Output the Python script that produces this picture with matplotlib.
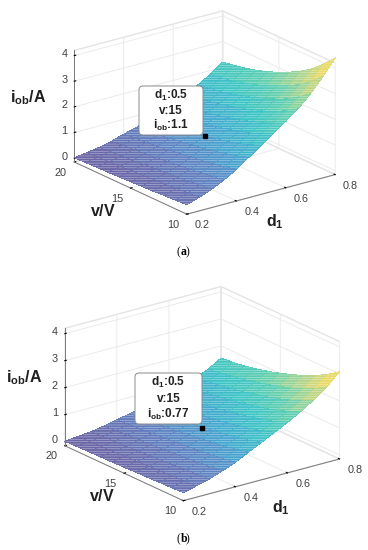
import matplotlib
matplotlib.use("Agg")
import matplotlib.pyplot as plt
import matplotlib.transforms as mtransforms
from matplotlib.colors import LinearSegmentedColormap
from matplotlib.lines import Line2D
from matplotlib.patches import FancyBboxPatch
from mpl_toolkits.mplot3d import proj3d
import numpy as np

W, H = 368, 550

# values
d1_vals = [0.20, 0.25, 0.30, 0.35, 0.40, 0.45, 0.50, 0.55, 0.60, 0.65, 0.70, 0.75, 0.80]
v_vals = [10, 11, 12, 13, 14, 15, 16, 17, 18, 19, 20]

iob_a = [
    [0.22, 0.38, 0.56, 0.80, 1.08, 1.42, 1.76, 2.10, 2.44, 2.80, 3.26, 3.80, 4.40],
    [0.19, 0.34, 0.51, 0.72, 0.97, 1.27, 1.58, 1.89, 2.20, 2.53, 2.94, 3.42, 3.96],
    [0.17, 0.31, 0.46, 0.66, 0.88, 1.15, 1.42, 1.70, 1.98, 2.28, 2.65, 3.08, 3.57],
    [0.14, 0.27, 0.41, 0.60, 0.80, 1.05, 1.30, 1.56, 1.82, 2.10, 2.44, 2.84, 3.28],
    [0.12, 0.24, 0.37, 0.54, 0.74, 0.96, 1.20, 1.44, 1.68, 1.94, 2.26, 2.62, 3.03],
    [0.10, 0.21, 0.33, 0.49, 0.67, 0.88, 1.10, 1.33, 1.55, 1.80, 2.09, 2.43, 2.82],
    [0.08, 0.18, 0.30, 0.44, 0.61, 0.80, 1.01, 1.22, 1.44, 1.67, 1.95, 2.26, 2.64],
    [0.06, 0.15, 0.26, 0.39, 0.55, 0.73, 0.93, 1.13, 1.34, 1.56, 1.82, 2.12, 2.49],
    [0.05, 0.13, 0.22, 0.35, 0.50, 0.66, 0.85, 1.04, 1.24, 1.46, 1.71, 1.99, 2.37],
    [0.03, 0.10, 0.19, 0.31, 0.46, 0.60, 0.78, 0.97, 1.17, 1.39, 1.64, 1.91, 2.28],
    [0.02, 0.08, 0.16, 0.27, 0.42, 0.55, 0.72, 0.90, 1.10, 1.32, 1.57, 1.85, 2.20],
]
iob_b = [
    [0.15, 0.27, 0.40, 0.57, 0.76, 1.00, 1.24, 1.48, 1.72, 1.99, 2.29, 2.64, 3.08],
    [0.13, 0.24, 0.36, 0.51, 0.68, 0.90, 1.11, 1.33, 1.55, 1.80, 2.07, 2.39, 2.78],
    [0.12, 0.22, 0.33, 0.47, 0.62, 0.81, 1.00, 1.20, 1.40, 1.63, 1.88, 2.17, 2.53],
    [0.10, 0.19, 0.29, 0.42, 0.57, 0.74, 0.92, 1.10, 1.29, 1.50, 1.73, 2.00, 2.33],
    [0.09, 0.17, 0.26, 0.38, 0.52, 0.68, 0.85, 1.01, 1.19, 1.39, 1.60, 1.85, 2.16],
    [0.07, 0.15, 0.23, 0.34, 0.47, 0.62, 0.77, 0.93, 1.10, 1.29, 1.49, 1.72, 2.01],
    [0.06, 0.13, 0.21, 0.31, 0.43, 0.56, 0.71, 0.86, 1.01, 1.20, 1.38, 1.60, 1.87],
    [0.05, 0.11, 0.18, 0.28, 0.39, 0.51, 0.65, 0.79, 0.94, 1.12, 1.29, 1.50, 1.76],
    [0.04, 0.09, 0.16, 0.25, 0.35, 0.47, 0.60, 0.73, 0.87, 1.04, 1.21, 1.41, 1.66],
    [0.03, 0.07, 0.13, 0.22, 0.32, 0.43, 0.55, 0.67, 0.81, 0.98, 1.14, 1.33, 1.60],
    [0.02, 0.06, 0.11, 0.19, 0.30, 0.39, 0.50, 0.62, 0.76, 0.92, 1.07, 1.26, 1.55],
]

d1_ticks = [0.2, 0.4, 0.6, 0.8]
v_ticks = [10, 15, 20]
iob_ticks = [0, 1, 2, 3, 4]
d1_tick_labels = ["0.2", "0.4", "0.6", "0.8"]
v_tick_labels = ["10", "15", "20"]
iob_tick_labels = ["0", "1", "2", "3", "4"]

tip_a = (0.5, 15, 1.1)
tip_b = (0.5, 15, 0.77)

plt.rcParams.update({
    "font.family": ["Liberation Sans", "DejaVu Sans"],
    "mathtext.fontset": "custom",
    "mathtext.rm": "Liberation Sans",
    "mathtext.bf": "Liberation Sans:bold",
    "mathtext.it": "Liberation Sans:bold",
    "hatch.linewidth": 0.35,
})

surf_cmap = LinearSegmentedColormap.from_list(
    "pale_parula", ["#6d62a3", "#5f82c2", "#44a8d0", "#3cc4c6", "#5fcfb0", "#a8d58e", "#e4d870", "#fddc45"])

fig = plt.figure(figsize=(W / 100, H / 100), dpi=100, facecolor="white")
PX = mtransforms.Affine2D().scale(1, -1).translate(0, H)  # image pixels, y down


def panel(rect, table, zoom):
    ax = fig.add_axes(rect, projection="3d", computed_zorder=False, proj_type="ortho")
    ax.patch.set_alpha(0)
    X, Y = np.meshgrid(d1_vals, v_vals)
    Z = np.array(table)
    surf = ax.plot_surface(X, Y, Z, cmap=surf_cmap, vmin=0, vmax=Z.max(),
                           rstride=1, cstride=1, linewidth=0, antialiased=False, shade=False)
    surf.set_edgecolor("#ffffffa0")
    surf.set_linewidth(0)
    surf.set_hatch("-" * 7)

    ax.view_init(elev=20.6, azim=-127.2)
    ax.set_box_aspect((1, 1, 0.64), zoom=zoom)
    ax.set_xlim(0.2, 0.8)
    ax.set_ylim(10, 20)
    ax.set_zlim(-0.15, 4.2)
    ax.set_xticks(d1_ticks)
    ax.set_yticks(v_ticks)
    ax.set_zticks(iob_ticks)
    ax.set_xticklabels([])
    ax.set_yticklabels([])
    ax.set_zticklabels([])
    for axis in (ax.xaxis, ax.yaxis, ax.zaxis):
        axis.set_pane_color("white")
        axis.pane.set_edgecolor("#e4e4e4")
        axis.line.set_color("#7a7a7a")
        axis.line.set_linewidth(0.7)
        axis._axinfo["grid"].update(color="#e8e8e8", linewidth=0.6)
        axis._axinfo["tick"].update(inward_factor=0, outward_factor=0.12)
    return ax


ax_a = panel([-0.077, 0.4565, 1.24, 0.66], iob_a, 0.773)
ax_b = panel([-0.084, -0.0546, 1.24, 0.66], iob_b, 0.814)

# axis titles and panel captions
for x, y, s in [(28, 98, r"$\mathbf{i_{ob}/A}$"), (103, 211, r"$\mathbf{v/V}$"), (275, 222, r"$\mathbf{d_1}$"),
                (24, 378, r"$\mathbf{i_{ob}/A}$"), (102, 496, r"$\mathbf{v/V}$"), (281, 508, r"$\mathbf{d_1}$")]:
    fig.text(x, y, s, transform=PX, ha="center", va="center", fontsize=11.5, color="#202020")

for y, letter in [(252, "a"), (539, "b")]:
    fig.text(180, y, "(", transform=PX, ha="right", va="center", fontsize=8.5, family="Liberation Serif")
    fig.text(180.5, y, letter, transform=PX, ha="left", va="center", fontsize=8.5,
             family="Liberation Serif", weight="bold")
    fig.text(186, y, ")", transform=PX, ha="left", va="center", fontsize=8.5, family="Liberation Serif")

fig.canvas.draw()


def to_screen(ax, x, y, z):
    px, py, _ = proj3d.proj_transform(x, y, z, ax.get_proj())
    return ax.transData.transform((px, py))


def tick_labels(ax):
    # native 3d tick labels can't be nudged per axis, so place them from the projected ticks
    zmin = ax.get_zlim()[0]
    for d, s in zip(d1_ticks, d1_tick_labels):
        sx, sy = to_screen(ax, d, 10, zmin)
        fig.text(sx + 15.5, sy - 11, s, transform=mtransforms.IdentityTransform(),
                 ha="center", va="center", fontsize=7.8, color="#404040")
    for v, s in zip(v_ticks, v_tick_labels):
        sx, sy = to_screen(ax, 0.2, v, zmin)
        fig.text(sx - 13.5, sy - 10.5, s, transform=mtransforms.IdentityTransform(),
                 ha="center", va="center", fontsize=7.8, color="#404040")
    for z, s in zip(iob_ticks, iob_tick_labels):
        sx, sy = to_screen(ax, 0.2, 20, z)
        fig.text(sx - 10, sy + 1.5, s, transform=mtransforms.IdentityTransform(),
                 ha="center", va="center", fontsize=7.8, color="#404040")


def datatip(ax, tip, box, lines):
    x0, y0, x1, y1 = box
    fig.add_artist(FancyBboxPatch((x0 + 3, y0 + 3), x1 - x0 - 6, y1 - y0 - 6, boxstyle="round,pad=3,rounding_size=4",
                                  transform=PX, facecolor="white", edgecolor="#8a8a8a", linewidth=0.7, zorder=3))
    ys = np.linspace(y0 + 9.5, y1 - 9.5, 3)
    for y, s in zip(ys, lines):
        fig.text((x0 + x1) / 2, y, s, transform=PX, ha="center", va="center", fontsize=8.5,
                 color="#222222", weight="bold", zorder=4)
    sx, sy = to_screen(ax, *tip)
    fig.add_artist(Line2D([sx], [sy], marker="s", markersize=2.6, color="black", zorder=5,
                          transform=mtransforms.IdentityTransform()))


tick_labels(ax_a)
tick_labels(ax_b)
datatip(ax_a, tip_a, (139, 86, 203, 135), [r"$\mathbf{d_1}$:0.5", "v:15", r"$\mathbf{i_{ob}}$:1.1"])
datatip(ax_b, tip_b, (135, 373, 202, 424), [r"$\mathbf{d_1}$:0.5", "v:15", r"$\mathbf{i_{ob}}$:0.77"])

fig.savefig("out.png", dpi=100)
